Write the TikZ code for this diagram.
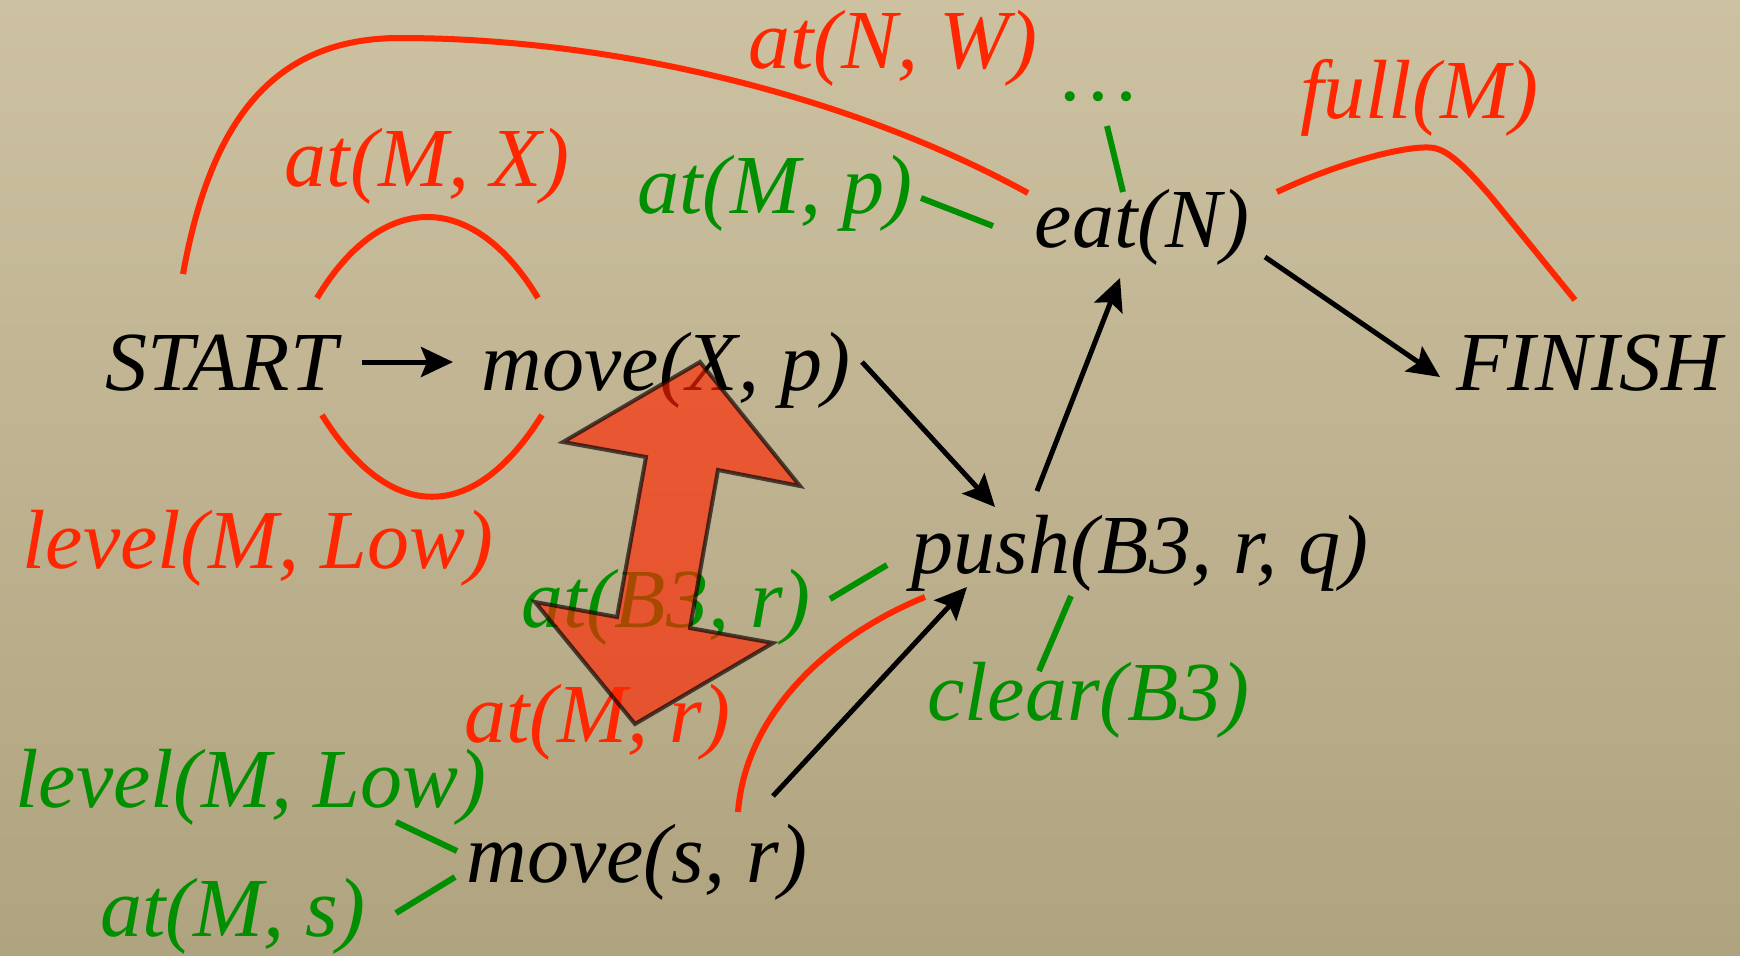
\documentclass[tikz,border=0pt]{standalone}
\usepackage{fontspec}
\setmainfont{Liberation Serif}
\usetikzlibrary{arrows.meta,calc}
\definecolor{bgtop}{RGB}{204,193,161}
\definecolor{bgbot}{RGB}{176,163,127}
\definecolor{pred}{RGB}{255,38,0}
\definecolor{pgreen}{RGB}{0,143,0}
\begin{document}
\begin{tikzpicture}[x=0.5pt,y=-0.5pt,
  lbl/.style={inner sep=0pt,outer sep=0pt,anchor=base,font=\fontsize{42}{50}\selectfont\itshape},
  actlabel/.style={lbl,text=black},
  linklabel/.style={lbl,text=pred},
  condlabel/.style={lbl,text=pgreen},
  ordarrow/.style={draw=black,line width=2.5pt,-{Stealth[length=16pt,width=15pt,inset=3pt]}},
  causalline/.style={draw=pred,line width=3pt},
  condline/.style={draw=pgreen,line width=3pt},
  conflict/.style={fill=pred,draw=black,line width=2pt,opacity=0.65,line join=miter}]
\useasboundingbox (0,0) rectangle (1740,955);
\shade[top color=bgtop,bottom color=bgbot] (0,0) rectangle (1740,955);

% actions
\node[actlabel] (start) at (221,390) {START};
\node[actlabel] (mxp) at (666,390) {move(X, p)};
\node[actlabel] (eat) at (1142,247) {eat(N)};
\node[actlabel] (finish) at (1589,390) {FINISH};
\node[actlabel] (push) at (1140,573) {push(B3, r, q)};
\node[actlabel] (msr) at (637,882) {move(s, r)};
% causal link labels
\node[linklabel] (atNW) at (893,68) {at(N, W)};
\node[linklabel] (fullM) at (1419,118) {full(M)};
\node[linklabel] (atMX) at (427,186) {at(M, X)};
\node[linklabel] (levR) at (258,568) {level(M, Low)};
\node[linklabel] (atMr) at (597,742) {at(M, r)};
% open preconditions
\node[condlabel] (dots) at (1100,100) {…};
\node[condlabel] (atMp) at (775,213) {at(M, p)};
\node[condlabel] (atBr) at (666,627) {at(B3, r)};
\node[condlabel] (clr) at (1088,720) {clear(B3)};
\node[condlabel] (levG) at (251,807) {level(M, Low)};
\node[condlabel] (atMs) at (233,936) {at(M, s)};

% ordering arrows
\draw[ordarrow] ($(start.base)+(141,-28)$) -- ($(mxp.base)+(-213,-28)$);
\draw[ordarrow] ($(mxp.base)+(196,-28)$) -- ($(push.base)+(-145,-66)$);
\draw[ordarrow] ($(push.base)+(-103,-82)$) -- ($(eat.base)+(-22,31)$);
\draw[ordarrow] ($(eat.base)+(123,10)$) -- ($(finish.base)+(-149,-13)$);
\draw[ordarrow] ($(msr.base)+(136,-86)$) -- ($(push.base)+(-173,14)$);

% precondition ticks
\draw[condline] ($(dots.base)+(7,26)$) -- ($(eat.base)+(-19,-55)$);
\draw[condline] ($(atMp.base)+(146,-15)$) -- ($(eat.base)+(-149,-21)$);
\draw[condline] ($(atBr.base)+(164,-28)$) -- ($(push.base)+(-253,-8)$);
\draw[condline] ($(clr.base)+(-49,-49)$) -- ($(push.base)+(-69,23)$);
\draw[condline] ($(levG.base)+(145,15)$) -- ($(msr.base)+(-180,-31)$);
\draw[condline] ($(atMs.base)+(163,-23)$) -- ($(msr.base)+(-182,-5)$);

% causal links
\draw[causalline] ($(start.base)+(-38,-116)$) .. controls (210,125) and (270,38) .. (400,38)
  .. controls (600,38) and (840,90) .. ($(eat.base)+(-114,-54)$);
\draw[causalline] ($(start.base)+(96,-92)$) .. controls (382,190) and (473,190) .. ($(mxp.base)+(-128,-92)$);
\draw[causalline] ($(start.base)+(101,25)$) .. controls (390,524) and (474,524) .. ($(mxp.base)+(-124,25)$);
\draw[causalline] ($(eat.base)+(135,-55)$) .. controls (1340,162) and (1410,144) .. (1434,148)
  .. controls (1450,151) and (1468,170) .. (1492,198) -- ($(finish.base)+(-14,-90)$);
\draw[causalline] ($(msr.base)+(101,-70)$) .. controls (745,720) and (820,640) .. ($(push.base)+(-215,24)$);

% threat (double arrow)
\draw[conflict] (700,362) -- (800,486) -- (718,470) -- (690,628) -- (773,643) -- (635,724)
  -- (535,602) -- (617,617) -- (646,457) -- (563,442) -- cycle;
\end{tikzpicture}
\end{document}
